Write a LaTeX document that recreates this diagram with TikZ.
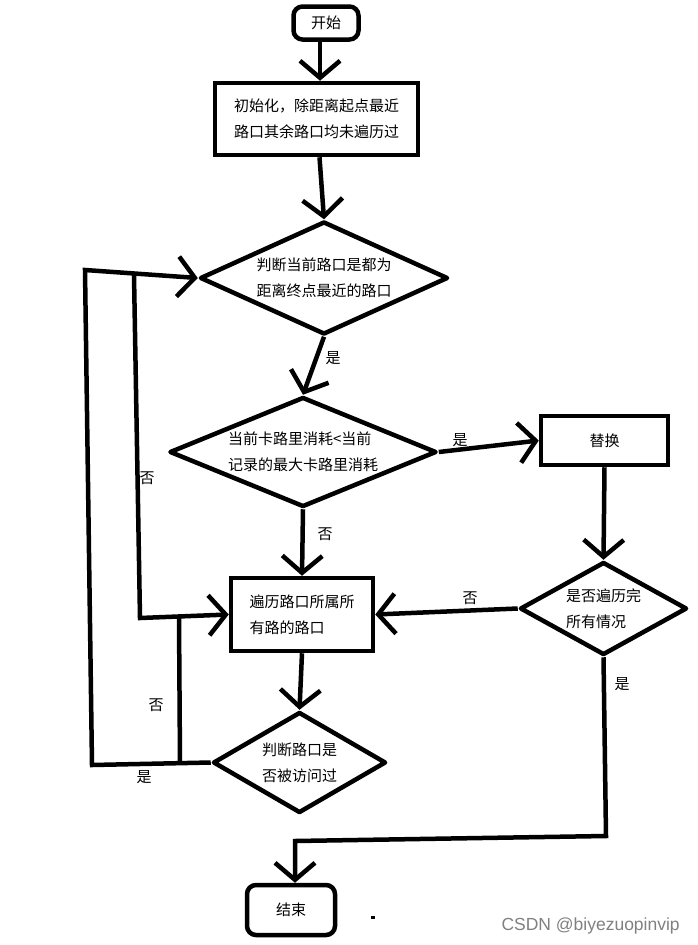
\documentclass[tikz,border=0pt]{standalone}
\usepackage{fontspec}
\newfontfamily\cjk{Noto Sans CJK SC}
\newfontfamily\wmfont{Liberation Sans}
\usetikzlibrary{shapes.geometric,arrows.meta}
\begin{document}
\begin{tikzpicture}[x=1pt,y=-1pt,line width=4.5pt,
  font=\cjk\fontsize{15}{26}\selectfont,
  >={Straight Barb[length=17pt,width=40pt]},
  box/.style={draw,rectangle,inner sep=0pt},
  rbox/.style={box,rounded corners=9pt},
  test/.style={draw,diamond,inner sep=0pt,aspect=2.2,line join=round}]
\useasboundingbox (0,0) rectangle (697,945);

\node[rbox,minimum width=65pt,minimum height=33pt] (start) at (326,23) {开始};
\node[box,minimum width=203pt,minimum height=72pt,align=center] (init) at (316.5,119) {初始化，除距离起点最近\\路口其余路口均未遍历过};
\node[test,minimum width=248pt,minimum height=113pt,align=left] (judge1) at (324,278) {判断当前路口是都为\\距离终点最近的路口};
\node[test,minimum width=267pt,minimum height=110pt,align=left] (judge2) at (303,452) {当前卡路里消耗<当前\\记录的最大卡路里消耗};
\node[box,minimum width=127pt,minimum height=49pt] (swap) at (604.5,440.5) {替换};
\node[test,minimum width=167pt,minimum height=93pt,align=left] (judge3) at (603.5,608.5) {是否遍历完\\所有情况};
\node[box,minimum width=142pt,minimum height=73pt,align=left] (trav) at (302,614.5) {遍历路口所属所\\有路的路口};
\node[test,minimum width=173pt,minimum height=101pt,align=center] (judge4) at (299.5,762.5) {判断路口是\\否被访问过};
\node[rbox,minimum width=88pt,minimum height=50pt] (end) at (291,910) {结束};

\coordinate (lowleft) at (92,765);
\coordinate (upleft) at (85,270);
\coordinate (innertop) at (134,275);
\coordinate (innerbot) at (140,618);
\coordinate (notop) at (179,618);
\coordinate (nobot) at (180,764);
\coordinate (rdown) at (606,836);
\coordinate (rleft) at (295,841);

\draw[->] ([xshift=-6pt]start.south) -- ([xshift=-6pt]start.south |- init.north);
\draw[->] ([xshift=3pt]init.south) -- (judge1.north);
\draw[->] (judge1.south) -- (judge2.north);
\draw[->] (judge2.east) -- (swap.west);
\draw[->] (swap.south) -- (judge3.north);
\draw[->] (judge3.west) -- (trav.east);
\draw[->] (judge2.south) -- (trav.north);
\draw[->] (trav.south) -- (judge4.north);
\draw[->] (judge3.south) -- (rdown) -- (rleft) -- (rleft |- end.north);
\draw[->] (judge4.west) -- (lowleft) -- (upleft) -- (judge1.west);
\draw[->] (innertop) -- (innerbot) -- (trav.west);
\draw (nobot) -- (notop);

\node (yes1) at (333,358) {是};
\node (yes2) at (460,440) {是};
\node (no2) at (325,534) {否};
\node (no3) at (470,598) {否};
\node (yes3) at (622,684) {是};
\node (no1) at (147,478) {否};
\node (no4) at (156,705) {否};
\node (yes4) at (144,777) {是};

%\draw[gray] (0,0) grid[step=50] (697,945);
\fill (371,916) rectangle (375,919);
\node[anchor=east,text=gray,font=\wmfont\fontsize{17.5}{20}\selectfont,inner sep=0pt] (mark) at (682,926) {CSDN @biyezuopinvip};

\end{tikzpicture}
\end{document}
